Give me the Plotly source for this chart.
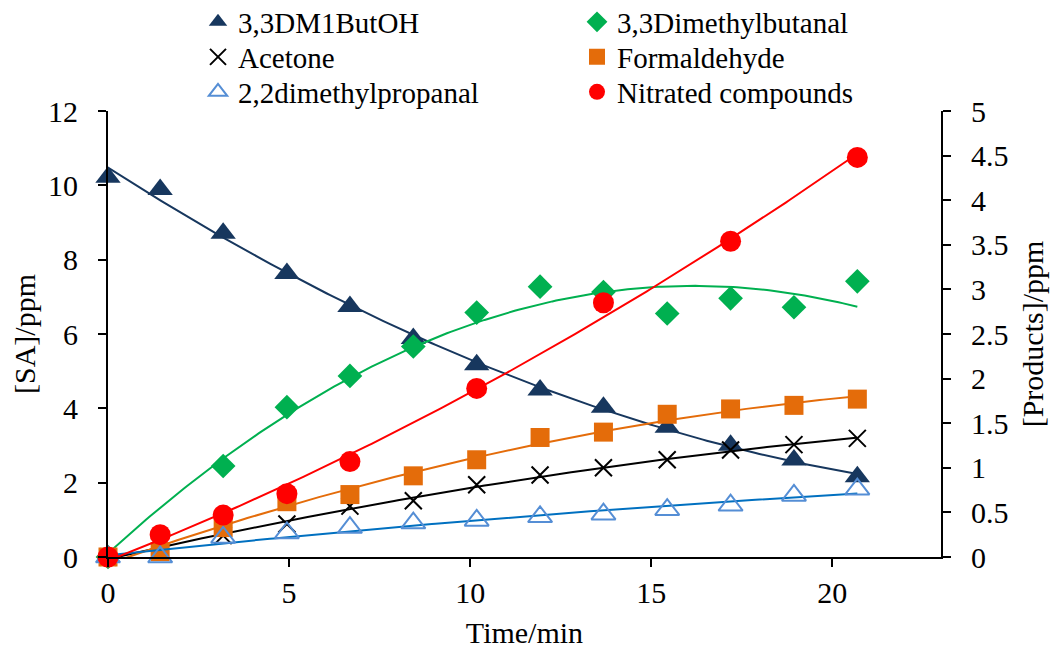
import numpy as np
import plotly.graph_objects as go

# ---- data ----
time_min = [0, 1.44, 3.18, 4.94, 6.68, 8.43, 10.18, 11.93, 13.68, 15.44, 17.19, 18.94, 20.69]

sa_33dm1butoh = [10.22, 9.89, 8.71, 7.63, 6.74, 5.88, 5.17, 4.49, 4.03, 3.49, 3.01, 2.61, 2.16]   # left axis
dimethylbutanal = [0, None, 1.02, 1.68, 2.03, 2.36, 2.74, 3.03, 2.97, 2.73, 2.90, 2.80, 3.09]     # right axis
acetone = [0, None, 0.24, 0.37, 0.57, 0.63, 0.81, 0.92, 1.00, 1.09, 1.20, 1.26, 1.33]
formaldehyde = [0, 0.06, 0.33, 0.62, 0.70, 0.91, 1.09, 1.34, 1.40, 1.60, 1.66, 1.70, 1.77]
dimethylpropanal = [0, 0.0, 0.22, 0.27, 0.33, 0.38, 0.41, 0.45, 0.48, 0.53, 0.58, 0.69, 0.76]
nitrated = [0, 0.25, 0.47, 0.71, 1.07, None, 1.89, None, 2.85, None, 3.54, None, 4.48]

x_ticks = [0, 5, 10, 15, 20]
left_ticks = [0, 2, 4, 6, 8, 10, 12]
right_ticks = [0, 0.5, 1, 1.5, 2, 2.5, 3, 3.5, 4, 4.5, 5]
right_tick_text = ["0", "0.5", "1", "1.5", "2", "2.5", "3", "3.5", "4", "4.5", "5"]

FONT = "Liberation Serif"

# the page body adds an 8px margin, so the figure is sized to fill the rest of the window
W, H = 1051, 647

series = [
    dict(name="3,3DM1ButOH", y=sa_33dm1butoh, axis="y", symbol="triangle-up",
         mcolor="#17375E", lcolor="#17375E", size=22, open=False, legend="legend"),
    dict(name="3,3Dimethylbutanal", y=dimethylbutanal, axis="y2", symbol="diamond",
         mcolor="#00B050", lcolor="#00B050", size=19, open=False, legend="legend"),
    dict(name="Acetone", y=acetone, axis="y2", symbol="x-thin",
         mcolor="#000000", lcolor="#000000", size=17, open=True, legend="legend2"),
    dict(name="Formaldehyde", y=formaldehyde, axis="y2", symbol="square",
         mcolor="#E46C0A", lcolor="#E46C0A", size=19, open=False, legend="legend2"),
    dict(name="2,2dimethylpropanal", y=dimethylpropanal, axis="y2", symbol="triangle-up-open",
         mcolor="#558ED5", lcolor="#0070C0", size=21, open=True, legend="legend3"),
    dict(name="Nitrated compounds", y=nitrated, axis="y2", symbol="circle",
         mcolor="#FF0000", lcolor="#FF0000", size=21, open=False, legend="legend3"),
]

fig = go.Figure()
for s in series:
    t = np.array([ti for ti, v in zip(time_min, s["y"]) if v is not None])
    v = np.array([vi for vi in s["y"] if vi is not None])
    coef = np.polyfit(t, v, 2)
    tt = np.linspace(0, max(t), 200)
    fig.add_trace(go.Scatter(
        x=tt, y=np.polyval(coef, tt), mode="lines", yaxis=s["axis"],
        line=dict(color=s["lcolor"], width=2), showlegend=False, hoverinfo="skip"))
    marker = dict(symbol=s["symbol"], size=s["size"], color=s["mcolor"])
    if s["open"]:
        marker["line"] = dict(color=s["mcolor"], width=2)
    else:
        marker["line"] = dict(width=0)
    fig.add_trace(go.Scatter(
        x=time_min, y=s["y"], mode="markers", name=s["name"], yaxis=s["axis"],
        marker=marker, cliponaxis=False, legend=s["legend"]))

axis_font = dict(family=FONT, size=30, color="#000000")
leg_font = dict(family=FONT, size=29, color="#000000")


def row_legend(y_px):
    return dict(orientation="h", x=190 / W, y=1 - (y_px - 8) / H, xref="container", yref="container",
                xanchor="left", yanchor="middle", entrywidth=334, itemwidth=30,
                font=leg_font, bgcolor="rgba(0,0,0,0)", borderwidth=0)


fig.update_layout(
    width=W, height=H,
    margin=dict(l=100, r=117.5, t=103, b=98, autoexpand=False),
    paper_bgcolor="white", plot_bgcolor="white",
    font=dict(family=FONT, size=30, color="#000000"),
    showlegend=True,
    legend=row_legend(22),
    legend2=row_legend(57),
    legend3=row_legend(92),
    xaxis=dict(range=[0, 23], tickvals=x_ticks, showline=True, linecolor="#000000",
               linewidth=2, ticks="outside", ticklen=8, tickwidth=2, tickcolor="#000000",
               showgrid=False, zeroline=False, tickfont=axis_font,
               title=dict(text="Time/min", font=axis_font, standoff=14)),
    yaxis=dict(range=[0, 12], tickvals=left_ticks, showline=True, linecolor="#000000",
               linewidth=2, ticks="outside", ticklen=8, tickwidth=2, tickcolor="#000000",
               showgrid=False, zeroline=False, tickfont=axis_font, ticklabelstandoff=14,
               title=dict(text="[SA]/ppm", font=axis_font, standoff=8)),
    yaxis2=dict(range=[0, 5], tickvals=right_ticks, ticktext=right_tick_text,
                overlaying="y", side="right", showline=True, linecolor="#000000",
                linewidth=2, ticks="outside", ticklen=8, tickwidth=2, tickcolor="#000000",
                showgrid=False, zeroline=False, tickfont=axis_font, ticklabelstandoff=14,
                title=dict(text="[Products]/ppm", font=axis_font, standoff=14)),
)

fig.write_html("out.html")
